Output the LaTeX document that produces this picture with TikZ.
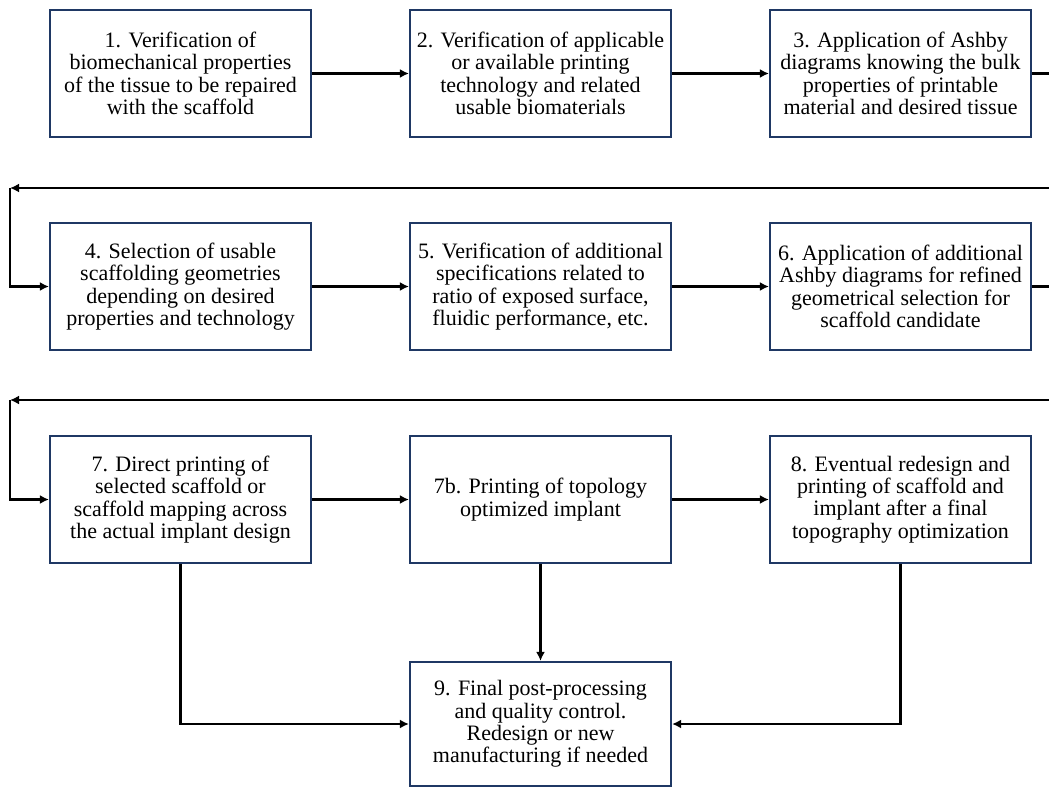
\documentclass[tikz,border=0pt]{standalone}
\usepackage{fontspec}
\setmainfont{Liberation Serif}
\usepackage{xcolor}
\usetikzlibrary{arrows.meta}

\definecolor{boxnavy}{HTML}{1F3864}
\tikzset{
  stagebox/.style={draw=boxnavy, line width=2.2pt, fill=white,
    minimum width=261pt, minimum height=127pt, inner sep=0pt,
    align=center, font=\fontsize{22}{22.4}\selectfont},
  flow/.style={line width=2.2pt, -{Latex[length=9pt,width=9pt]}}
}

\begin{document}
\begin{tikzpicture}[x=1pt,y=-1pt]
  % Frame of the picture
  \useasboundingbox (0,0) rectangle (1049,787);
  \clip (0,0) rectangle (1049,787);

  % First row
  \node[stagebox] (s1) at (180.5,73.5) {1. Verification of\\biomechanical properties\\of the tissue to be repaired\\with the scaffold};
  \node[stagebox] (s2) at (540.5,73.5) {2. Verification of applicable\\or available printing\\technology and related\\usable biomaterials};
  \node[stagebox] (s3) at (900.5,73.5) {3. Application of Ashby\\diagrams knowing the bulk\\properties of printable\\material and desired tissue};

  % Second row
  \node[stagebox] (s4) at (180.5,286.5) {4. Selection of usable\\scaffolding geometries\\depending on desired\\properties and technology};
  \node[stagebox] (s5) at (540.5,286.5) {5. Verification of additional\\specifications related to\\ratio of exposed surface,\\fluidic performance, etc.};
  \node[stagebox] (s6) at (900.5,286.5) {6. Application of additional\\Ashby diagrams for refined\\geometrical selection for\\scaffold candidate};

  % Third row
  \node[stagebox] (s7) at (180.5,499.5) {7. Direct printing of\\selected scaffold or\\scaffold mapping across\\the actual implant design};
  \node[stagebox] (s7b) at (540.5,499.5) {7b. Printing of topology\\optimized implant};
  \node[stagebox] (s8) at (900.5,499.5) {8. Eventual redesign and\\printing of scaffold and\\implant after a final\\topography optimization};

  % Last step
  \node[stagebox, minimum height=124pt] (s9) at (540.5,724) {9. Final post-processing\\and quality control.\\Redesign or new\\manufacturing if needed};

  % Turning points of the return lines
  \coordinate (out1) at (1062,73.5);
  \coordinate (back1) at (1062,188);
  \coordinate (turn1) at (10,188);
  \coordinate (out2) at (1062,286.5);
  \coordinate (back2) at (1062,400);
  \coordinate (turn2) at (10,400);

  % Arrows along the rows
  \draw[flow] (s1) -- (s2);
  \draw[flow] (s2) -- (s3);
  \draw[flow] (s4) -- (s5);
  \draw[flow] (s5) -- (s6);
  \draw[flow] (s7) -- (s7b);
  \draw[flow] (s7b) -- (s8);

  % Return lines to the next row
  \draw[flow] (s3.east) -- (out1) -- (back1) -- (turn1);
  \draw[flow] (turn1) |- (s4.west);
  \draw[flow] (s6.east) -- (out2) -- (back2) -- (turn2);
  \draw[flow] (turn2) |- (s7.west);

  % Into the last step
  \draw[flow] (s7.south) |- (s9.west);
  \draw[flow] (s7b) -- (s9);
  \draw[flow] (s8.south) |- (s9.east);
\end{tikzpicture}
\end{document}
